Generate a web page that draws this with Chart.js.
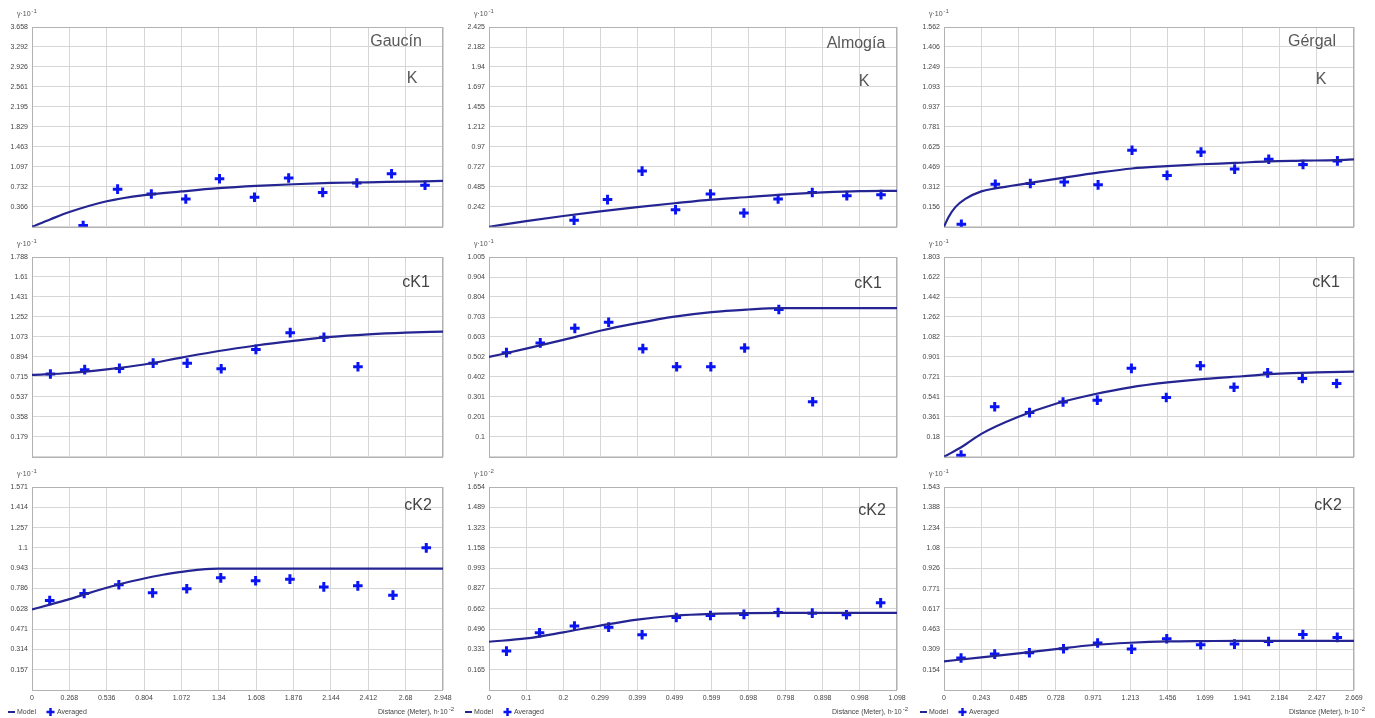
<!DOCTYPE html>
<html>
<head>
<meta charset="utf-8">
<script src="https://cdn.jsdelivr.net/npm/chart.js@4.4.1/dist/chart.umd.min.js"></script>
<style>
body { margin: 0; background: #fff; width: 1375px; height: 718px; overflow: hidden; position: relative; font-family: Arial, "Liberation Sans", sans-serif; }
canvas { position: absolute; }
.lbl { position: absolute; font-size: 16px; color: #585858; transform: translate(-50%, -50%); white-space: nowrap; }
.var { color: #444; }
</style>
</head>
<body>
<script>
// tick labels, one set per column (distance) and one per panel (semivariance)
const xTicksGaucin = ['0', '0.268', '0.536', '0.804', '1.072', '1.34', '1.608', '1.876', '2.144', '2.412', '2.68', '2.948'];
const xTicksAlmogia = ['0', '0.1', '0.2', '0.299', '0.399', '0.499', '0.599', '0.698', '0.798', '0.898', '0.998', '1.098'];
const xTicksGergal = ['0', '0.243', '0.485', '0.728', '0.971', '1.213', '1.456', '1.699', '1.941', '2.184', '2.427', '2.669'];

const yTicksGaucinK = ['0', '0.366', '0.732', '1.097', '1.463', '1.829', '2.195', '2.561', '2.926', '3.292', '3.658'];
const yTicksAlmogiaK = ['0', '0.242', '0.485', '0.727', '0.97', '1.212', '1.455', '1.697', '1.94', '2.182', '2.425'];
const yTicksGergalK = ['0', '0.156', '0.312', '0.469', '0.625', '0.781', '0.937', '1.093', '1.249', '1.406', '1.562'];
const yTicksGaucinCK1 = ['0', '0.179', '0.358', '0.537', '0.715', '0.894', '1.073', '1.252', '1.431', '1.61', '1.788'];
const yTicksAlmogiaCK1 = ['0', '0.1', '0.201', '0.301', '0.402', '0.502', '0.603', '0.703', '0.804', '0.904', '1.005'];
const yTicksGergalCK1 = ['0', '0.18', '0.361', '0.541', '0.721', '0.901', '1.082', '1.262', '1.442', '1.622', '1.803'];
const yTicksGaucinCK2 = ['0', '0.157', '0.314', '0.471', '0.628', '0.786', '0.943', '1.1', '1.257', '1.414', '1.571'];
const yTicksAlmogiaCK2 = ['0', '0.165', '0.331', '0.496', '0.662', '0.827', '0.993', '1.158', '1.323', '1.489', '1.654'];
const yTicksGergalCK2 = ['0', '0.154', '0.309', '0.463', '0.617', '0.771', '0.926', '1.08', '1.234', '1.388', '1.543'];

// averaged experimental semivariogram
const avgXGaucinK = [0.367, 0.614, 0.856, 1.103, 1.345, 1.596, 1.841, 2.085, 2.330, 2.579, 2.819];
const avgYGaucinK = [0.024, 0.689, 0.600, 0.510, 0.881, 0.540, 0.893, 0.630, 0.803, 0.971, 0.761];
const avgXAlmogiaK = [0.229, 0.319, 0.412, 0.502, 0.596, 0.686, 0.778, 0.870, 0.963, 1.055];
const avgYAlmogiaK = [0.080, 0.330, 0.676, 0.207, 0.398, 0.167, 0.338, 0.417, 0.378, 0.390];
const avgXGergalK = [0.113, 0.334, 0.562, 0.783, 1.003, 1.224, 1.452, 1.673, 1.892, 2.114, 2.337, 2.561];
const avgYGergalK = [0.020, 0.333, 0.338, 0.351, 0.328, 0.599, 0.402, 0.584, 0.451, 0.528, 0.487, 0.515];

const avgXGaucinCK1 = [0.132, 0.378, 0.627, 0.869, 1.113, 1.357, 1.606, 1.852, 2.094, 2.338];
const avgYGaucinCK1 = [0.741, 0.780, 0.791, 0.838, 0.838, 0.788, 0.961, 1.111, 1.070, 0.806];
const avgXAlmogiaCK1 = [0.047, 0.138, 0.231, 0.322, 0.414, 0.505, 0.597, 0.688, 0.780, 0.871];
const avgYAlmogiaCK1 = [0.524, 0.573, 0.646, 0.677, 0.544, 0.453, 0.453, 0.547, 0.741, 0.277];
const avgXGergalCK1 = [0.111, 0.330, 0.557, 0.775, 0.998, 1.220, 1.447, 1.669, 1.888, 2.107, 2.333, 2.556];
const avgYGergalCK1 = [0.015, 0.452, 0.399, 0.494, 0.511, 0.798, 0.535, 0.822, 0.627, 0.757, 0.706, 0.662];

const avgXGaucinCK2 = [0.127, 0.374, 0.623, 0.865, 1.110, 1.354, 1.604, 1.850, 2.093, 2.337, 2.589, 2.828];
const avgYGaucinCK2 = [0.693, 0.747, 0.814, 0.752, 0.783, 0.868, 0.845, 0.858, 0.798, 0.806, 0.734, 1.100];
const avgXAlmogiaCK2 = [0.047, 0.136, 0.230, 0.322, 0.412, 0.504, 0.596, 0.686, 0.778, 0.870, 0.962, 1.054];
const avgYAlmogiaCK2 = [0.317, 0.466, 0.521, 0.512, 0.450, 0.591, 0.607, 0.616, 0.632, 0.626, 0.613, 0.710];
const avgXGergalCK2 = [0.111, 0.330, 0.556, 0.778, 1.000, 1.221, 1.450, 1.671, 1.891, 2.113, 2.336, 2.560];
const avgYGergalCK2 = [0.243, 0.273, 0.283, 0.314, 0.357, 0.311, 0.390, 0.344, 0.349, 0.369, 0.422, 0.400];

// fitted model curve
const modelXGaucinK = [0, 0.134, 0.268, 0.536, 0.804, 1.072, 1.34, 1.608, 1.876, 2.144, 2.412, 2.68, 2.948];
const modelYGaucinK = [0, 0.14, 0.27, 0.468, 0.58, 0.647, 0.707, 0.749, 0.779, 0.803, 0.815, 0.827, 0.839];
const modelXAlmogiaK = [0, 0.1, 0.2, 0.299, 0.399, 0.499, 0.599, 0.698, 0.798, 0.898, 0.998, 1.098];
const modelYAlmogiaK = [0, 0.068, 0.131, 0.187, 0.239, 0.286, 0.330, 0.362, 0.394, 0.417, 0.433, 0.437];
const modelXGergalK = [0, 0.03, 0.074, 0.139, 0.243, 0.334, 0.562, 0.783, 1.003, 1.224, 1.452, 1.673, 1.892, 2.114, 2.337, 2.561, 2.669];
const modelYGergalK = [0, 0.077, 0.154, 0.218, 0.277, 0.30, 0.343, 0.384, 0.423, 0.456, 0.474, 0.489, 0.499, 0.512, 0.517, 0.522, 0.527];

const modelXGaucinCK1 = [0, 0.268, 0.536, 0.804, 1.072, 1.34, 1.608, 1.876, 2.144, 2.412, 2.68, 2.948];
const modelYGaucinCK1 = [0.733, 0.750, 0.783, 0.826, 0.888, 0.947, 0.996, 1.037, 1.073, 1.096, 1.111, 1.120];
const modelXAlmogiaCK1 = [0, 0.1, 0.2, 0.299, 0.399, 0.499, 0.599, 0.698, 0.78, 0.898, 1.098];
const modelYAlmogiaCK1 = [0.502, 0.544, 0.588, 0.634, 0.672, 0.705, 0.728, 0.741, 0.748, 0.748, 0.748];
const modelXGergalCK1 = [0, 0.122, 0.243, 0.485, 0.728, 0.971, 1.213, 1.456, 1.699, 1.941, 2.184, 2.427, 2.669];
const modelYGergalCK1 = [0, 0.095, 0.207, 0.361, 0.479, 0.562, 0.627, 0.671, 0.704, 0.727, 0.750, 0.761, 0.768];

const modelXGaucinCK2 = [0, 0.134, 0.268, 0.402, 0.536, 0.67, 0.804, 0.938, 1.072, 1.206, 1.34, 2.948];
const modelYGaucinCK2 = [0.623, 0.663, 0.703, 0.748, 0.791, 0.83, 0.863, 0.892, 0.914, 0.932, 0.940, 0.940];
const modelXAlmogiaCK2 = [0, 0.1, 0.2, 0.299, 0.399, 0.499, 0.599, 0.698, 0.798, 1.098];
const modelYAlmogiaCK2 = [0.393, 0.420, 0.470, 0.525, 0.574, 0.605, 0.620, 0.626, 0.628, 0.628];
const modelXGergalCK2 = [0, 0.243, 0.485, 0.728, 0.971, 1.213, 1.456, 1.699, 1.941, 2.669];
const modelYGergalCK2 = [0.218, 0.248, 0.278, 0.311, 0.342, 0.359, 0.369, 0.372, 0.374, 0.374];

const panels = [
    { row: 0, col: 0, xt: xTicksGaucin, yt: yTicksGaucinK, ax: avgXGaucinK, ay: avgYGaucinK, mx: modelXGaucinK, my: modelYGaucinK, exp: '-1' },
    { row: 0, col: 1, xt: xTicksAlmogia, yt: yTicksAlmogiaK, ax: avgXAlmogiaK, ay: avgYAlmogiaK, mx: modelXAlmogiaK, my: modelYAlmogiaK, exp: '-1' },
    { row: 0, col: 2, xt: xTicksGergal, yt: yTicksGergalK, ax: avgXGergalK, ay: avgYGergalK, mx: modelXGergalK, my: modelYGergalK, exp: '-1' },
    { row: 1, col: 0, xt: xTicksGaucin, yt: yTicksGaucinCK1, ax: avgXGaucinCK1, ay: avgYGaucinCK1, mx: modelXGaucinCK1, my: modelYGaucinCK1, exp: '-1' },
    { row: 1, col: 1, xt: xTicksAlmogia, yt: yTicksAlmogiaCK1, ax: avgXAlmogiaCK1, ay: avgYAlmogiaCK1, mx: modelXAlmogiaCK1, my: modelYAlmogiaCK1, exp: '-1' },
    { row: 1, col: 2, xt: xTicksGergal, yt: yTicksGergalCK1, ax: avgXGergalCK1, ay: avgYGergalCK1, mx: modelXGergalCK1, my: modelYGergalCK1, exp: '-1' },
    { row: 2, col: 0, xt: xTicksGaucin, yt: yTicksGaucinCK2, ax: avgXGaucinCK2, ay: avgYGaucinCK2, mx: modelXGaucinCK2, my: modelYGaucinCK2, exp: '-1' },
    { row: 2, col: 1, xt: xTicksAlmogia, yt: yTicksAlmogiaCK2, ax: avgXAlmogiaCK2, ay: avgYAlmogiaCK2, mx: modelXAlmogiaCK2, my: modelYAlmogiaCK2, exp: '-2' },
    { row: 2, col: 2, xt: xTicksGergal, yt: yTicksGergalCK2, ax: avgXGergalCK2, ay: avgYGergalCK2, mx: modelXGergalCK2, my: modelYGergalCK2, exp: '-1' }
];

// page geometry
const colLeft = [0, 460, 915], colWidth = [460, 455, 460];
const areaLeft = [32, 489, 944], areaRight = [443, 897, 1354];
const rowTop = [0, 235, 465], rowHeight = [235, 230, 253];
const areaTop = [27, 257, 487], areaBottom = [230, 460, 690];

const labels = [
    ['Gaucín', 396, 41, ''], ['K', 412, 78, ''],
    ['Almogía', 856, 43, ''], ['K', 864, 81, ''],
    ['Gérgal', 1312, 41, ''], ['K', 1321, 79, ''],
    ['cK1', 416, 282, 'var'], ['cK1', 868, 283, 'var'], ['cK1', 1326, 282, 'var'],
    ['cK2', 418, 505, 'var'], ['cK2', 872, 510, 'var'], ['cK2', 1328, 505, 'var']
];

const smallFont = '"Liberation Sans Narrow", "Arial Narrow", Arial, sans-serif';
const modelColor = '#242492';
const pointColor = '#0a14f2';

function supText(ctx, base, sup, x, y, align) {
    ctx.font = '7px ' + smallFont;
    const w1 = ctx.measureText(base).width;
    ctx.font = '6px ' + smallFont;
    const w2 = ctx.measureText(sup).width;
    const x0 = align === 'right' ? x - w1 - w2 - 1 : x;
    ctx.textAlign = 'left';
    ctx.textBaseline = 'middle';
    ctx.font = '7px ' + smallFont;
    ctx.fillText(base, x0, y);
    ctx.font = '6px ' + smallFont;
    ctx.fillText(sup, x0 + w1 + 1, y - 3);
}

const panelDeco = {
    id: 'panelDeco',
    beforeDatasetsDraw(chart) {
        const a = chart.chartArea, ctx = chart.ctx;
        ctx.save();
        ctx.strokeStyle = '#b2b2b2';
        ctx.lineWidth = 1;
        ctx.strokeRect(Math.round(a.left) + 0.5, Math.round(a.top) + 0.5, Math.round(a.right - a.left) - 1, Math.round(a.bottom - a.top));
        ctx.restore();
    },
    afterDraw(chart, args, opts) {
        const a = chart.chartArea, ctx = chart.ctx;
        ctx.save();
        ctx.fillStyle = '#555';
        supText(ctx, 'γ·10', opts.exp, a.left - 15, a.top - 13, 'left');
        if (opts.bottom) {
            const ly = a.bottom + 22;
            ctx.strokeStyle = modelColor;
            ctx.lineWidth = 2;
            ctx.beginPath();
            ctx.moveTo(a.left - 24, ly); ctx.lineTo(a.left - 17, ly);
            ctx.stroke();
            ctx.fillStyle = '#444';
            ctx.font = '7px ' + smallFont;
            ctx.textAlign = 'left';
            ctx.textBaseline = 'middle';
            ctx.fillText('Model', a.left - 15, ly);
            ctx.strokeStyle = pointColor;
            ctx.lineWidth = 2.5;
            ctx.beginPath();
            ctx.moveTo(a.left + 14.5, ly); ctx.lineTo(a.left + 22.5, ly);
            ctx.moveTo(a.left + 18.5, ly - 4); ctx.lineTo(a.left + 18.5, ly + 4);
            ctx.stroke();
            ctx.fillText('Averaged', a.left + 25, ly);
            supText(ctx, 'Distance (Meter), h·10', '-2', a.right + 11, ly, 'right');
        }
        ctx.restore();
    }
};

labels.forEach(function (l) {
    const d = document.createElement('div');
    d.className = 'lbl ' + l[3];
    d.textContent = l[0];
    d.style.left = l[1] + 'px';
    d.style.top = l[2] + 'px';
    document.body.appendChild(d);
});

panels.forEach(function (p) {
    const L = colLeft[p.col], W = colWidth[p.col], T = rowTop[p.row], H = rowHeight[p.row];
    const canvas = document.createElement('canvas');
    canvas.width = W;
    canvas.height = H;
    canvas.style.left = L + 'px';
    canvas.style.top = T + 'px';
    document.body.insertBefore(canvas, document.body.firstChild);

    const isBottom = p.row === 2;
    const xVals = p.xt.map(parseFloat);
    const yVals = p.yt.map(parseFloat);

    new Chart(canvas.getContext('2d'), {
        type: 'scatter',
        data: {
            datasets: [{
                label: 'Model',
                data: p.mx.map((x, i) => ({ x: x, y: p.my[i] })),
                showLine: true,
                borderColor: modelColor,
                borderWidth: 2.2,
                pointRadius: 0,
                cubicInterpolationMode: 'monotone'
            }, {
                label: 'Averaged',
                data: p.ax.map((x, i) => ({ x: x, y: p.ay[i] })),
                pointStyle: 'cross',
                pointRadius: 4.8,
                borderWidth: 3,
                borderColor: pointColor,
                backgroundColor: pointColor
            }]
        },
        options: {
            responsive: false,
            animation: false,
            layout: { padding: { top: areaTop[p.row] - T, right: L + W - areaRight[p.col], left: 0, bottom: 0 } },
            plugins: {
                legend: { display: false },
                tooltip: { enabled: false },
                panelDeco: { exp: p.exp, bottom: isBottom }
            },
            scales: {
                x: {
                    type: 'linear',
                    min: 0,
                    max: xVals[xVals.length - 1],
                    afterBuildTicks: s => { s.ticks = xVals.map(v => ({ value: v })); },
                    afterFit: s => { s.height = T + H - areaBottom[p.row]; },
                    grid: { color: '#d6d6d6', drawTicks: false },
                    border: { display: false },
                    ticks: {
                        display: isBottom,
                        padding: 4,
                        maxRotation: 0,
                        autoSkip: false,
                        color: '#444',
                        font: { family: smallFont, size: 7 },
                        callback: (v, i) => p.xt[i]
                    }
                },
                y: {
                    min: 0,
                    max: yVals[yVals.length - 1],
                    afterBuildTicks: s => { s.ticks = yVals.map(v => ({ value: v })); },
                    afterFit: s => { s.width = areaLeft[p.col] - L; },
                    grid: { color: '#d6d6d6', drawTicks: false },
                    border: { display: false },
                    ticks: {
                        padding: 4,
                        autoSkip: false,
                        color: '#444',
                        font: { family: smallFont, size: 7 },
                        callback: (v, i) => i === 0 ? '' : p.yt[i]
                    }
                }
            }
        },
        plugins: [panelDeco]
    });
});
</script>
</body>
</html>
